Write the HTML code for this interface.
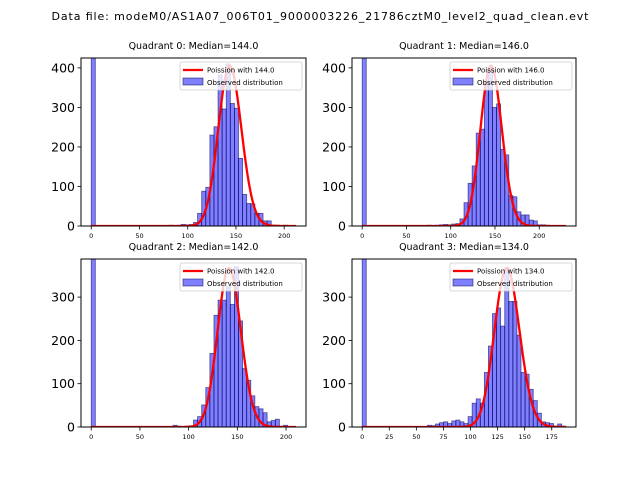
<!DOCTYPE html>
<html><head><meta charset="utf-8"><style>
html,body{margin:0;padding:0;background:#fff;}
svg{display:block;font-family:"DejaVu Sans","Liberation Sans",sans-serif;}
</style></head><body>
<svg id="fig" width="640" height="480" viewBox="0 0 640 480">
<text x="320" y="20" text-anchor="middle" font-size="11" textLength="537">Data file: modeM0/AS1A07_006T01_9000003226_21786cztM0_level2_quad_clean.evt</text>
</svg>
<script>
const q0Counts=[1000,0,0,0,0,0,0,0,0,0,0,0,0,0,0,0,0,1,1,2,1,2,4,3,4,9,32,88,98,230,251,382,296,410,310,298,171,80,57,56,32,32,13,13,2,2,1,2,1,1];
const q1Counts=[1000,0,0,0,0,0,0,0,0,0,0,0,0,0,0,1,2,1,2,3,4,3,5,6,18,59,108,152,235,245,365,395,300,309,194,180,77,74,36,28,28,15,13,3,3,2,1,1,1,1];
const q2Counts=[1000,0,0,0,0,0,0,0,0,0,0,0,0,0,0,0,0,0,0,0,4,2,0,2,3,16,24,51,91,170,258,293,293,324,283,370,245,135,108,72,47,42,33,12,15,18,2,4,0,1];
const q3Counts=[1000,0,0,0,0,0,0,0,0,0,0,0,0,0,0,0,4,3,7,10,12,8,14,16,12,8,24,55,65,55,126,187,262,275,233,368,290,290,212,126,122,87,61,32,12,10,8,2,7,2];
const dataMax=[212,230,210,188];
const medians=[144.0,146.0,142.0,134.0];
const peakHeights=[405,405,367,367];
const yMaxes=[425,425,388,388];
const xTicksA=[0,50,100,150,200];
const xTicksB=[0,25,50,75,100,125,150,175];
const yTicksA=[0,100,200,300,400];
const yTicksB=[0,100,200,300];

const NS="http://www.w3.org/2000/svg";
const svg=document.getElementById('fig');
function mk(tag,attrs,parent){const e=document.createElementNS(NS,tag);for(const k in attrs)e.setAttribute(k,attrs[k]);(parent||svg).appendChild(e);return e;}
function lnfact(k){let s=0;for(let i=2;i<=k;i++)s+=Math.log(i);return s;}
function logPois(k,l){return k*Math.log(l)-l-lnfact(k);}

const panels=[
 {x0:81,x1:306,y0:58,y1:226,counts:q0Counts,xt:xTicksA,yt:yTicksA},
 {x0:352,x1:576,y0:58,y1:226,counts:q1Counts,xt:xTicksA,yt:yTicksA},
 {x0:81,x1:306,y0:259,y1:427,counts:q2Counts,xt:xTicksA,yt:yTicksB},
 {x0:352,x1:576,y0:259,y1:427,counts:q3Counts,xt:xTicksB,yt:yTicksB}
];
panels.forEach((p,q)=>{
 const g=mk('g',{});
 
 
 const mx=dataMax[q], pad=mx*0.05;
 const xmin=-pad, xmax=mx+pad, ymax=yMaxes[q];
 const X=v=>p.x0+(v-xmin)/(xmax-xmin)*(p.x1-p.x0);
 const Y=v=>p.y1-Math.min(v,ymax)/ymax*(p.y1-p.y0);
 const cid='clip'+q;
 const cp=mk('clipPath',{id:cid},g);mk('rect',{x:p.x0,y:p.y0,width:p.x1-p.x0,height:p.y1-p.y0},cp);
 const bars=mk('g',{'clip-path':'url(#'+cid+')'},g);
 const bw=mx/p.counts.length;
 p.counts.forEach((c,i)=>{
  if(c<=0)return;
  const r=mk('rect',{x:X(i*bw),y:Y(c),width:X((i+1)*bw)-X(i*bw),height:p.y1-Y(c),fill:'rgba(0,0,255,0.5)',stroke:'rgba(0,0,80,0.6)','stroke-width':0.8},bars);
  
  
 });
 const lam=medians[q], mode=Math.floor(lam), lp0=logPois(mode,lam);
 let d='';
 for(let k=0;k<=Math.ceil(mx);k++){const v=peakHeights[q]*Math.exp(logPois(k,lam)-lp0);d+=(k?'L':'M')+X(k).toFixed(2)+' '+Y(v).toFixed(2);}
 const pl=mk('path',{d:d,fill:'none',stroke:'#ff0000','stroke-width':2.3,'clip-path':'url(#'+cid+')'},g);
 
 
 const fr=mk('rect',{x:p.x0,y:p.y0,width:p.x1-p.x0,height:p.y1-p.y0,fill:'none',stroke:'#000','stroke-width':1},g);
 
 
 p.xt.forEach(t=>{
  mk('line',{x1:X(t),x2:X(t),y1:p.y1,y2:p.y1+3.5,stroke:'#000','stroke-width':0.8},g);
  const tx=mk('text',{x:X(t),y:p.y1+12,'font-size':6.5,'text-anchor':'middle'},g);tx.textContent=t;
  
  
 });
 p.yt.forEach(t=>{
  mk('line',{x1:p.x0-3.5,x2:p.x0,y1:Y(t),y2:Y(t),stroke:'#000','stroke-width':0.8},g);
  const tx=mk('text',{x:p.x0-6,y:Y(t)+4.5,'font-size':12.5,'text-anchor':'end'},g);tx.textContent=t;
  
  
 });
 const tt=mk('text',{x:(p.x0+p.x1)/2,y:p.y0-9,'font-size':9.5,'text-anchor':'middle'},g);
 tt.textContent='Quadrant '+q+': Median='+medians[q].toFixed(1);
 
 
 const lg=mk('g',{},g);
 
 
 const lx=p.x1-126, ly=p.y0+4;
 mk('rect',{x:lx,y:ly,width:122,height:28,rx:2,fill:'rgba(255,255,255,0.8)',stroke:'#ccc','stroke-width':0.8},lg);
 mk('line',{x1:lx+3,x2:lx+23,y1:ly+8,y2:ly+8,stroke:'#f00','stroke-width':2.3},lg);
 const t1=mk('text',{x:lx+27,y:ly+10.5,'font-size':7},lg);t1.textContent='Poission with '+medians[q].toFixed(1);
 
 
 mk('rect',{x:lx+3,y:ly+16,width:20,height:7,fill:'rgba(0,0,255,0.5)',stroke:'rgba(0,0,80,0.6)','stroke-width':0.8},lg);
 const t2=mk('text',{x:lx+27,y:ly+23,'font-size':7},lg);t2.textContent='Observed distribution';
 
 
});
</script>
</body></html>
